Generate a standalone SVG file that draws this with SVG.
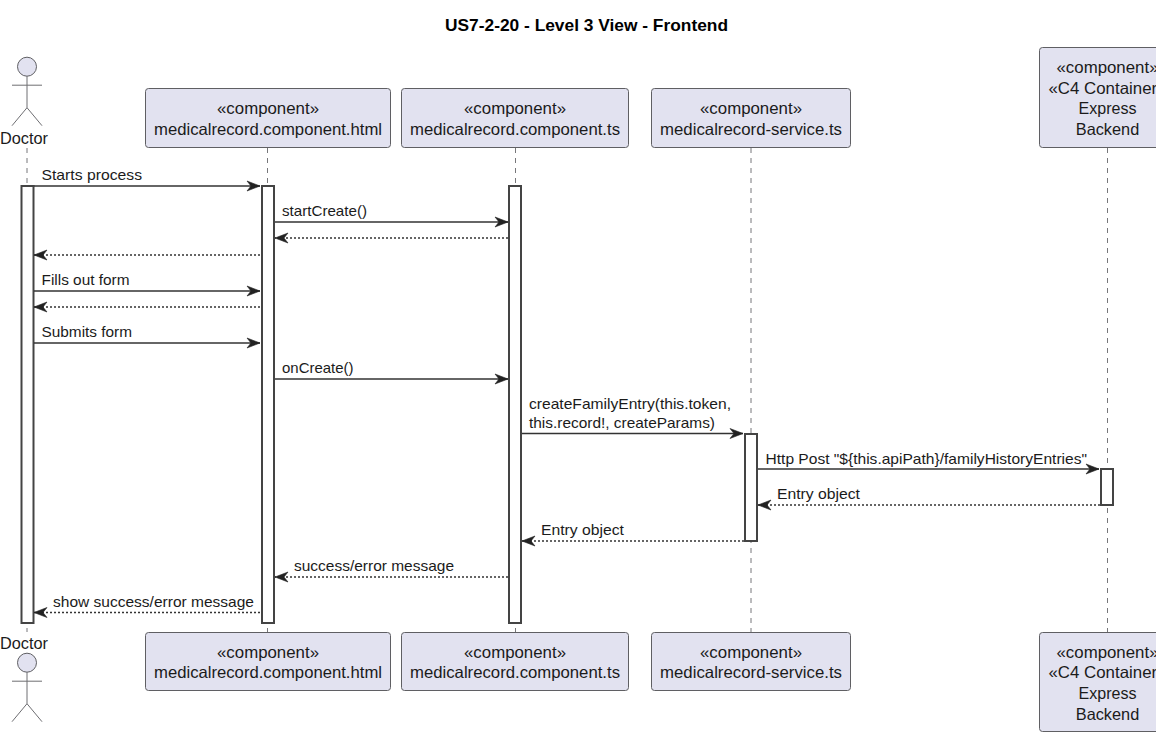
<svg xmlns="http://www.w3.org/2000/svg" width="1156" height="732" viewBox="0 0 1156 732">
<style>
text{font-family:"Liberation Sans",Arial,sans-serif;fill:#1b1b1b}
.t{font-size:17px;font-weight:bold;text-anchor:middle;fill:#000}
.p{font-size:16.500px;text-anchor:middle}
.a{font-size:16.500px;text-anchor:middle}
.m{font-size:15px}
.box{fill:#e2e2f0;stroke:#5f5f63;stroke-width:1}
.life{stroke:#77777a;stroke-width:1;stroke-dasharray:5 5;fill:none}
.act{fill:#fff;stroke:#444;stroke-width:2}
.sol{stroke:#333;stroke-width:1.4;fill:none}
.das{stroke:#333;stroke-width:1.4;stroke-dasharray:2 2;fill:none}
.fig{fill:none;stroke:#6e6e72;stroke-width:1}
.head{fill:#e2e2f0;stroke:#5f5f63;stroke-width:1}
</style>
<defs>
<marker id="r" markerUnits="userSpaceOnUse" markerWidth="16" markerHeight="14" refX="14" refY="7" orient="auto"><path d="M1 2 L14 7 L1 12 L5 7 Z" fill="#222" stroke="#222" stroke-width="0.6"/></marker>
<g id="actor"><circle class="head" cx="27" cy="9.500" r="9.500"/><path class="fig" d="M27 19V50.500M12 28H42M27 50.500L12 68.500M27 50.500L42 68.500"/></g>
</defs>
<text class="t" x="586.500" y="31" textLength="283" lengthAdjust="spacingAndGlyphs">US7-2-20 - Level 3 View - Frontend</text>
<g id="lifelines">
<path class="life" d="M27 148V632M267.500 148V632M515.500 148V632M751 148V632M1107.500 148V632"/>
</g>
<g id="activations">
<rect class="act" x="21.500" y="186" width="12" height="437"/>
<rect class="act" x="262" y="186" width="12" height="437"/>
<rect class="act" x="509" y="186" width="12" height="437"/>
<rect class="act" x="745" y="434" width="12" height="107"/>
<rect class="act" x="1101" y="469" width="12" height="36"/>
</g>
<g id="connectors">
<path class="sol" marker-end="url(#r)" d="M34 186H260"/>
<path class="sol" marker-end="url(#r)" d="M275 222H508"/>
<path class="das" marker-end="url(#r)" d="M508 238H275"/>
<path class="das" marker-end="url(#r)" d="M260 255H34"/>
<path class="sol" marker-end="url(#r)" d="M34 291H260"/>
<path class="das" marker-end="url(#r)" d="M260 307H34"/>
<path class="sol" marker-end="url(#r)" d="M34 343H260"/>
<path class="sol" marker-end="url(#r)" d="M275 379H508"/>
<path class="sol" marker-end="url(#r)" d="M522 433.500H743"/>
<path class="sol" marker-end="url(#r)" d="M758 469H1099"/>
<path class="das" marker-end="url(#r)" d="M1100 505H758"/>
<path class="das" marker-end="url(#r)" d="M744 541H522"/>
<path class="das" marker-end="url(#r)" d="M508 577H275"/>
<path class="das" marker-end="url(#r)" d="M260 612.500H34"/>
</g>
<g id="labels">
<text class="m" x="41.500" y="180" textLength="100.500" lengthAdjust="spacingAndGlyphs">Starts process</text>
<text class="m" x="282" y="216" textLength="85" lengthAdjust="spacingAndGlyphs">startCreate()</text>
<text class="m" x="41.500" y="285" textLength="88" lengthAdjust="spacingAndGlyphs">Fills out form</text>
<text class="m" x="41.500" y="337" textLength="90.500" lengthAdjust="spacingAndGlyphs">Submits form</text>
<text class="m" x="282" y="373" textLength="71.500" lengthAdjust="spacingAndGlyphs">onCreate()</text>
<text class="m" x="529" y="409" textLength="202" lengthAdjust="spacingAndGlyphs">createFamilyEntry(this.token,</text>
<text class="m" x="529" y="428" textLength="186" lengthAdjust="spacingAndGlyphs">this.record!, createParams)</text>
<text class="m" x="765.500" y="464" textLength="321.500" lengthAdjust="spacingAndGlyphs">Http Post "${this.apiPath}/familyHistoryEntries"</text>
<text class="m" x="777" y="499" textLength="83" lengthAdjust="spacingAndGlyphs">Entry object</text>
<text class="m" x="541" y="535" textLength="83" lengthAdjust="spacingAndGlyphs">Entry object</text>
<text class="m" x="294" y="571" textLength="160" lengthAdjust="spacingAndGlyphs">success/error message</text>
<text class="m" x="53" y="607" textLength="201" lengthAdjust="spacingAndGlyphs">show success/error message</text>
</g>
<g id="doctor-top"><use href="#actor" x="0" y="57.200"/><text class="a" x="24" y="144" textLength="48" lengthAdjust="spacingAndGlyphs">Doctor</text></g>
<g id="doctor-bottom"><text class="a" x="24" y="649" textLength="48" lengthAdjust="spacingAndGlyphs">Doctor</text><use href="#actor" x="0" y="653.200"/></g>
<g id="html-top"><rect class="box" x="145.500" y="88.500" width="245" height="59" rx="3"/><text class="p" x="268" y="114" textLength="102" lengthAdjust="spacingAndGlyphs">«component»</text><text class="p" x="268" y="135" textLength="228" lengthAdjust="spacingAndGlyphs">medicalrecord.component.html</text></g>
<g id="ts-top"><rect class="box" x="401.500" y="88.500" width="227" height="59" rx="3"/><text class="p" x="515" y="114" textLength="102" lengthAdjust="spacingAndGlyphs">«component»</text><text class="p" x="515" y="135" textLength="210" lengthAdjust="spacingAndGlyphs">medicalrecord.component.ts</text></g>
<g id="service-top"><rect class="box" x="651.500" y="88.500" width="199" height="59" rx="3"/><text class="p" x="751" y="114" textLength="102" lengthAdjust="spacingAndGlyphs">«component»</text><text class="p" x="751" y="135" textLength="182" lengthAdjust="spacingAndGlyphs">medicalrecord-service.ts</text></g>
<g id="backend-top"><rect class="box" x="1039.500" y="47.500" width="140" height="100" rx="3"/><text class="p" x="1107.500" y="73" textLength="102" lengthAdjust="spacingAndGlyphs">«component»</text><text class="p" x="1107.500" y="93.500" textLength="118" lengthAdjust="spacingAndGlyphs">«C4 Container»</text><text class="p" x="1107.500" y="114" textLength="58" lengthAdjust="spacingAndGlyphs">Express</text><text class="p" x="1107.500" y="135" textLength="63.500" lengthAdjust="spacingAndGlyphs">Backend</text></g>
<g id="html-bottom"><rect class="box" x="145.500" y="632.500" width="245" height="58" rx="3"/><text class="p" x="268" y="658" textLength="102" lengthAdjust="spacingAndGlyphs">«component»</text><text class="p" x="268" y="678" textLength="228" lengthAdjust="spacingAndGlyphs">medicalrecord.component.html</text></g>
<g id="ts-bottom"><rect class="box" x="401.500" y="632.500" width="227" height="58" rx="3"/><text class="p" x="515" y="658" textLength="102" lengthAdjust="spacingAndGlyphs">«component»</text><text class="p" x="515" y="678" textLength="210" lengthAdjust="spacingAndGlyphs">medicalrecord.component.ts</text></g>
<g id="service-bottom"><rect class="box" x="651.500" y="632.500" width="199" height="58" rx="3"/><text class="p" x="751" y="658" textLength="102" lengthAdjust="spacingAndGlyphs">«component»</text><text class="p" x="751" y="678" textLength="182" lengthAdjust="spacingAndGlyphs">medicalrecord-service.ts</text></g>
<g id="backend-bottom"><rect class="box" x="1039.500" y="632.500" width="140" height="99" rx="3"/><text class="p" x="1107.500" y="658" textLength="102" lengthAdjust="spacingAndGlyphs">«component»</text><text class="p" x="1107.500" y="678" textLength="118" lengthAdjust="spacingAndGlyphs">«C4 Container»</text><text class="p" x="1107.500" y="699" textLength="58" lengthAdjust="spacingAndGlyphs">Express</text><text class="p" x="1107.500" y="720" textLength="63.500" lengthAdjust="spacingAndGlyphs">Backend</text></g>
</svg>
